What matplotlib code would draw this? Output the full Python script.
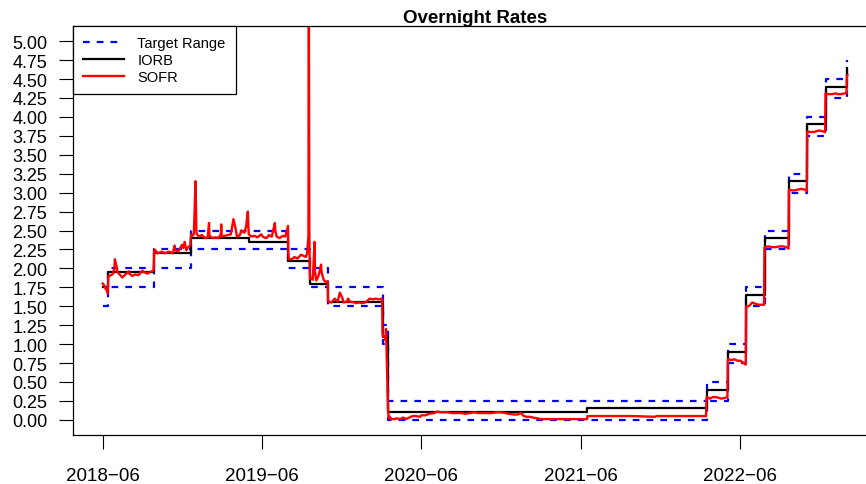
import numpy as np
import matplotlib.pyplot as plt

plt.rcParams['font.family'] = ['Liberation Sans', 'DejaVu Sans']

# policy settings, each value holds from its date until the next one
policy_dates = ['2018-06-01', '2018-06-14', '2018-09-27', '2018-12-20', '2019-05-02',
                '2019-08-01', '2019-09-19', '2019-10-31', '2020-03-04', '2020-03-16',
                '2021-06-17', '2022-03-17', '2022-05-05', '2022-06-16', '2022-07-28',
                '2022-09-22', '2022-11-03', '2022-12-15', '2023-02-02']
target_low = [1.50, 1.75, 2.00, 2.25, 2.25, 2.00, 1.75, 1.50, 1.00, 0.00,
              0.00, 0.25, 0.75, 1.50, 2.25, 3.00, 3.75, 4.25, 4.50]
target_high = [1.75, 2.00, 2.25, 2.50, 2.50, 2.25, 2.00, 1.75, 1.25, 0.25,
               0.25, 0.50, 1.00, 1.75, 2.50, 3.25, 4.00, 4.50, 4.75]
iorb = [1.75, 1.95, 2.20, 2.40, 2.35, 2.10, 1.80, 1.55, 1.10, 0.10,
        0.15, 0.40, 0.90, 1.65, 2.40, 3.15, 3.90, 4.40, 4.65]
last_date = '2023-02-03'

# SOFR, by year (month-day, percent)
sofr_2018_days = ['06-01', '06-04', '06-07', '06-11', '06-13', '06-14', '06-15', '06-20', '06-25',
                  '06-28', '06-29', '07-02', '07-05', '07-10', '07-16', '07-23', '07-31', '08-01',
                  '08-08', '08-15', '08-22', '08-31', '09-04', '09-12', '09-17', '09-21', '09-26',
                  '09-27', '09-28', '10-01', '10-05', '10-15', '10-22', '10-31', '11-01', '11-09',
                  '11-13', '11-15', '11-21', '11-30', '12-03', '12-06', '12-10', '12-14', '12-19',
                  '12-20', '12-21', '12-24', '12-27', '12-28', '12-31']
sofr_2018 = [1.80, 1.78, 1.74, 1.70, 1.67, 1.88, 1.90, 1.91, 1.93,
             2.00, 2.12, 2.05, 1.95, 1.92, 1.88, 1.92, 1.96, 1.93,
             1.90, 1.92, 1.91, 1.97, 1.95, 1.93, 1.95, 1.96, 1.97,
             2.20, 2.25, 2.23, 2.20, 2.22, 2.20, 2.22, 2.22, 2.20,
             2.30, 2.24, 2.22, 2.31, 2.27, 2.35, 2.24, 2.28, 2.30,
             2.40, 2.45, 2.43, 2.45, 2.60, 3.15]

sofr_2019_days = ['01-02', '01-03', '01-08', '01-15', '01-22', '01-28', '01-31', '02-01', '02-08',
                  '02-15', '02-22', '02-27', '02-28', '03-01', '03-08', '03-15', '03-22', '03-28',
                  '04-01', '04-05', '04-12', '04-15', '04-22', '04-26', '04-30', '05-01', '05-02',
                  '05-08', '05-15', '05-22', '05-31', '06-03', '06-10', '06-14', '06-17', '06-24',
                  '07-01', '07-02', '07-05', '07-12', '07-19', '07-25', '07-31', '08-01', '08-02',
                  '08-09', '08-15', '08-22', '08-30', '09-03', '09-10', '09-13', '09-16', '09-17',
                  '09-18', '09-19', '09-20', '09-23', '09-26', '09-30', '10-01', '10-04', '10-09',
                  '10-15', '10-16', '10-21', '10-25', '10-30', '10-31', '11-01', '11-08', '11-15',
                  '11-22', '11-27', '12-02', '12-06', '12-13', '12-16', '12-20', '12-31']
sofr_2019 = [2.50, 2.45, 2.42, 2.44, 2.40, 2.41, 2.60, 2.43, 2.40,
             2.41, 2.40, 2.45, 2.58, 2.42, 2.43, 2.44, 2.45, 2.65,
             2.55, 2.42, 2.44, 2.50, 2.47, 2.55, 2.75, 2.60, 2.45,
             2.42, 2.43, 2.41, 2.45, 2.42, 2.40, 2.41, 2.44, 2.42,
             2.60, 2.50, 2.42, 2.40, 2.43, 2.42, 2.56, 2.20, 2.12,
             2.12, 2.15, 2.13, 2.18, 2.17, 2.15, 2.20, 2.43, 5.25,
             2.55, 1.95, 1.86, 1.86, 1.85, 2.35, 1.96, 1.84, 1.90,
             2.05, 1.95, 1.85, 1.82, 1.83, 1.58, 1.56, 1.55, 1.60,
             1.56, 1.68, 1.62, 1.55, 1.56, 1.60, 1.56, 1.55]

sofr_2020_days = ['01-02', '01-10', '01-17', '01-24', '01-31', '02-03', '02-10', '02-18', '02-25',
                  '03-02', '03-03', '03-04', '03-05', '03-09', '03-11', '03-12', '03-16', '03-17',
                  '03-18', '03-20', '03-25', '03-31', '04-06', '04-14', '04-20', '04-27', '05-04',
                  '05-12', '05-20', '05-29', '06-01', '06-10', '06-19', '06-30', '07-08', '07-15',
                  '07-22', '07-31', '08-10', '08-20', '08-31', '09-10', '09-21', '09-30', '10-09',
                  '10-20', '10-30', '11-10', '11-20', '11-30', '12-10', '12-18', '12-31']
sofr_2020 = [1.54, 1.55, 1.54, 1.55, 1.58, 1.60, 1.59, 1.60, 1.59,
             1.60, 1.59, 1.14, 1.10, 1.10, 1.05, 1.20, 0.26, 0.10,
             0.02, 0.04, 0.01, 0.01, 0.02, 0.01, 0.03, 0.01, 0.03,
             0.05, 0.05, 0.04, 0.06, 0.06, 0.08, 0.09, 0.11, 0.10,
             0.10, 0.10, 0.09, 0.09, 0.09, 0.08, 0.09, 0.10, 0.09,
             0.09, 0.09, 0.09, 0.10, 0.10, 0.09, 0.08, 0.07]

sofr_2021_days = ['01-08', '01-15', '01-22', '01-29', '02-05', '02-12', '02-22', '03-01', '03-10',
                  '03-24', '04-09', '04-26', '05-10', '05-25', '06-04', '06-16', '06-17', '07-01',
                  '09-30', '11-19', '11-22', '12-31']
sofr_2021 = [0.07, 0.09, 0.05, 0.04, 0.04, 0.03, 0.02, 0.01, 0.01,
             0.01, 0.01, 0.01, 0.01, 0.01, 0.01, 0.01, 0.05, 0.05,
             0.05, 0.04, 0.05, 0.05]

sofr_2022_days = ['03-16', '03-17', '03-18', '03-25', '03-31', '04-08', '04-14', '04-20', '04-28',
                  '05-04', '05-05', '05-13', '05-20', '05-27', '06-03', '06-10', '06-15', '06-16',
                  '06-22', '06-30', '07-08', '07-15', '07-22', '07-27', '07-28', '08-05', '08-15',
                  '08-23', '08-31', '09-09', '09-16', '09-21', '09-22', '09-29', '10-05', '10-13',
                  '10-21', '10-28', '11-02', '11-03', '11-10', '11-18', '11-30', '12-08', '12-14',
                  '12-15', '12-22', '12-30']
sofr_2022 = [0.05, 0.29, 0.30, 0.28, 0.30, 0.30, 0.29, 0.28, 0.29,
             0.30, 0.80, 0.79, 0.80, 0.78, 0.78, 0.75, 0.73, 1.50,
             1.50, 1.55, 1.53, 1.52, 1.52, 1.52, 2.28, 2.29, 2.28,
             2.28, 2.29, 2.29, 2.28, 2.26, 3.04, 3.03, 3.03, 3.04,
             3.05, 3.04, 3.02, 3.81, 3.80, 3.80, 3.82, 3.81, 3.80,
             4.31, 4.30, 4.30]

sofr_2023_days = ['01-06', '01-13', '01-20', '01-27', '02-01', '02-02', '02-03']
sofr_2023 = [4.31, 4.30, 4.30, 4.31, 4.31, 4.55, 4.55]

sofr_by_year = [(2018, sofr_2018_days, sofr_2018), (2019, sofr_2019_days, sofr_2019),
                (2020, sofr_2020_days, sofr_2020), (2021, sofr_2021_days, sofr_2021),
                (2022, sofr_2022_days, sofr_2022), (2023, sofr_2023_days, sofr_2023)]

tick_dates = ['2018-06-01', '2019-06-01', '2020-06-01', '2021-06-01', '2022-06-01']
tick_labels = ['2018\u221206', '2019\u221206', '2020\u221206', '2021\u221206', '2022\u221206']

sofr_dates = []
sofr_vals = []
for yr, days, vals in sofr_by_year:
    sofr_dates += [f'{yr}-{d}' for d in days]
    sofr_vals += vals
sofr_dates = np.array(sofr_dates, dtype='datetime64[D]')
sofr_vals = np.array(sofr_vals)

step_dates = np.array(policy_dates + [last_date], dtype='datetime64[D]')

def stepped(vals):
    return np.array(vals + [vals[-1]])

fig = plt.figure(figsize=(8.66, 4.85), dpi=100)
ax = fig.add_axes([73 / 866, 49 / 485, 804 / 866, 409 / 485])

blue_kw = dict(color='#0000FF', lw=1.6, dashes=(3.0, 3.2), drawstyle='steps-post')
ax.plot(step_dates, stepped(target_high), label='Target Range', **blue_kw)
ax.plot(step_dates, stepped(target_low), **blue_kw)
ax.plot(step_dates, stepped(iorb), color='black', lw=1.6, drawstyle='steps-post', label='IORB')
ax.plot(sofr_dates, sofr_vals, color='#FF0000', lw=1.7, label='SOFR')

start = step_dates[0]
end = step_dates[-1]
pad = np.timedelta64(int(round(0.04 * (end - start).astype(int))), 'D')
ax.set_xlim(start - pad, end + pad)
ax.set_ylim(-0.2, 5.2)

yt = np.arange(0, 5.001, 0.25)
ax.set_yticks(yt)
ax.set_yticklabels([f'{v:.2f}' for v in yt])
ax.set_xticks(np.array(tick_dates, dtype='datetime64[D]'))
ax.set_xticklabels(tick_labels)

ax.tick_params(axis='y', direction='out', length=10, width=0.8, pad=8.5, labelsize=13)
ax.tick_params(axis='x', direction='out', length=10, width=0.8, pad=13, labelsize=13.5)
for s in ax.spines.values():
    s.set_linewidth(0.9)

ax.set_title('Overnight Rates', fontsize=13.5, fontweight='bold', pad=2)

leg = ax.legend(loc='upper left', borderaxespad=0, fancybox=False, framealpha=1,
                edgecolor='black', fontsize=10.5, borderpad=0.7, labelspacing=0.2,
                handlelength=2.8, handletextpad=0.9)
leg.get_frame().set_linewidth(0.9)

fig.savefig('out.png', dpi=100)
